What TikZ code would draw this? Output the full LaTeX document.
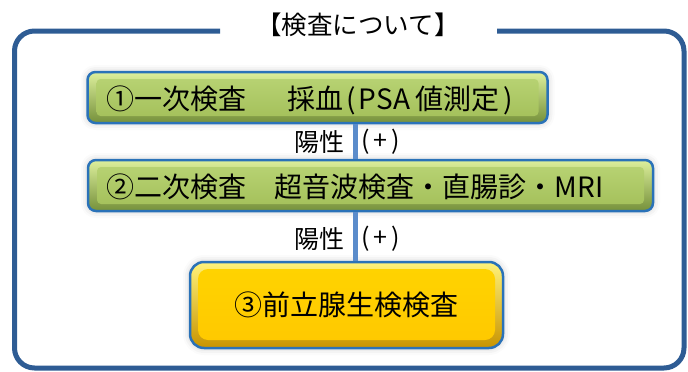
\documentclass[tikz,border=0pt]{standalone}
\usepackage{fontspec}
\setmainfont{Noto Sans CJK JP}
\usetikzlibrary{shadows.blur}
\definecolor{frameblue}{HTML}{2E5C94}
\definecolor{boxborder}{HTML}{2A72B8}
\definecolor{connblue}{HTML}{5B8CCB}
\definecolor{gTop}{HTML}{DDF09C}
\definecolor{gBot}{HTML}{75903A}
\definecolor{gInTop}{HTML}{BAD576}
\definecolor{gInBot}{HTML}{A2BE58}
\definecolor{yTop}{HTML}{FFF27A}
\definecolor{yBot}{HTML}{C89400}
\definecolor{yInTop}{HTML}{FFD400}
\definecolor{yInBot}{HTML}{FFC800}
\tikzset{
  halo/.style={blur shadow={shadow xshift=0pt, shadow yshift=0pt, shadow blur radius=7pt, shadow opacity=22}},
  greenbox/.style={draw=boxborder, line width=2.5pt, rounded corners=8pt, top color=gTop, bottom color=gBot, halo,
    path picture={\shade[top color=gInTop, bottom color=gInBot, rounded corners=4pt]
      ([shift={(9pt,-7pt)}]path picture bounding box.north west) rectangle ([shift={(-9pt,7pt)}]path picture bounding box.south east);}},
  yellowbox/.style={draw=boxborder, line width=2.5pt, rounded corners=14pt, top color=yTop, bottom color=yBot, halo,
    path picture={\shade[top color=yInTop, bottom color=yInBot, rounded corners=10pt]
      ([shift={(8pt,-7pt)}]path picture bounding box.north west) rectangle ([shift={(-8pt,8pt)}]path picture bounding box.south east);}},
  boxtext/.style={inner sep=0pt, font=\fontsize{28}{32}\selectfont, text=black},
  lbl/.style={inner sep=0pt, font=\fontsize{25}{29}\selectfont, text=black},
  titletext/.style={inner sep=0pt, font=\fontsize{25.5}{29}\selectfont, text=black},
  conn/.style={connblue, line width=5pt},
  frame/.style={frameblue, line width=5pt, rounded corners=20pt}
}
\begin{document}
\begin{tikzpicture}[x=1pt,y=-1pt]
\useasboundingbox (0,0) rectangle (688,372);
% outer frame
\coordinate (fl) at (220,31);
\coordinate (fr) at (497,31);
\draw[frame] (fl) -- (14.5,31) -- (14.5,368) -- (684,368) -- (684,31) -- (fr);
\node[titletext] (title) at (358,25) {【検査について】};
% boxes
\node[greenbox, minimum width=460pt, minimum height=51pt, inner sep=0pt] (b1) at (317.5,97.5) {};
\node[greenbox, minimum width=565pt, minimum height=51pt, inner sep=0pt] (b2) at (370.5,185.5) {};
\node[yellowbox, minimum width=313pt, minimum height=86pt, inner sep=0pt] (b3) at (346.5,305) {};
\node[boxtext, anchor=west] (t1) at ([xshift=20pt,yshift=-2.5pt]b1.west) {①一次検査\hspace{41pt}採血\hspace{3pt}(\hspace{3pt}PSA\hspace{5pt}値測定\hspace{4pt})};
\node[boxtext, anchor=west] (t2) at ([xshift=20pt,yshift=-1pt]b2.west) {②二次検査　超音波検査・直腸診・MRI};
\node[boxtext] (t3) at ([xshift=0pt,yshift=0pt]b3.center) {③前立腺生検検査};
% connectors
\draw[conn] (b1.south -| 355.5,0) -- (b2.north -| 355.5,0);
\draw[conn] (b2.south -| 355.5,0) -- (b3.north -| 355.5,0);
% labels
\node[lbl, anchor=east] (l1) at (345,142) {陽性};
\node[lbl, anchor=west] (p1) at (361,142) {(\,+\,)};
\node[lbl, anchor=east] (l2) at (345,239) {陽性};
\node[lbl, anchor=west] (p2) at (361,239) {(\,+\,)};
\end{tikzpicture}
\end{document}
